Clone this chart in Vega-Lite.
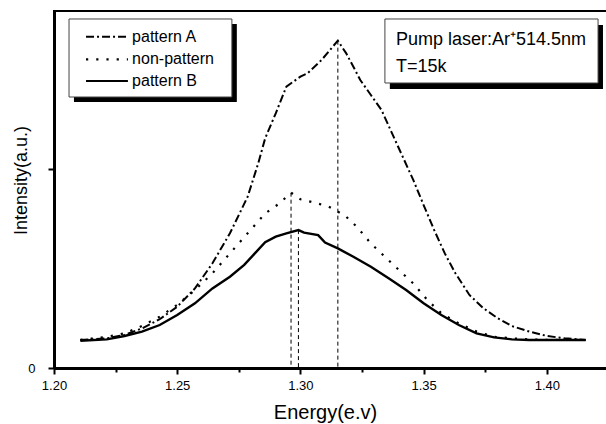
{
  "$schema": "https://vega.github.io/schema/vega-lite/v6.json",
  "autosize": "none",
  "padding": {"left": 54, "top": 11, "right": 0, "bottom": 56},
  "width": 553,
  "height": 357,
  "background": "white",
  "data": {"values": [{}]},
  "config": {
    "font": "Liberation Sans",
    "view": {"stroke": "black", "strokeWidth": 2},
    "axis": {"grid": false, "domainColor": "black", "domainWidth": 3, "tickColor": "black", "tickWidth": 2, "labelColor": "black", "titleColor": "black", "labelFont": "Liberation Sans", "titleFont": "Liberation Sans", "titleFontWeight": "normal"}
  },
  "datasets": {
    "curves": [
      {"series": "pattern A", "E": 1.2107, "I": 0.141},
      {"series": "pattern A", "E": 1.2214, "I": 0.149},
      {"series": "pattern A", "E": 1.2286, "I": 0.166},
      {"series": "pattern A", "E": 1.2357, "I": 0.199},
      {"series": "pattern A", "E": 1.2429, "I": 0.245},
      {"series": "pattern A", "E": 1.2500, "I": 0.308},
      {"series": "pattern A", "E": 1.2572, "I": 0.400},
      {"series": "pattern A", "E": 1.2643, "I": 0.526},
      {"series": "pattern A", "E": 1.2714, "I": 0.677},
      {"series": "pattern A", "E": 1.2786, "I": 0.861},
      {"series": "pattern A", "E": 1.2829, "I": 1.029},
      {"series": "pattern A", "E": 1.2857, "I": 1.154},
      {"series": "pattern A", "E": 1.2900, "I": 1.280},
      {"series": "pattern A", "E": 1.2943, "I": 1.414},
      {"series": "pattern A", "E": 1.3000, "I": 1.464},
      {"series": "pattern A", "E": 1.3029, "I": 1.481},
      {"series": "pattern A", "E": 1.3086, "I": 1.548},
      {"series": "pattern A", "E": 1.3152, "I": 1.645},
      {"series": "pattern A", "E": 1.3186, "I": 1.581},
      {"series": "pattern A", "E": 1.3215, "I": 1.514},
      {"series": "pattern A", "E": 1.3243, "I": 1.447},
      {"series": "pattern A", "E": 1.3286, "I": 1.372},
      {"series": "pattern A", "E": 1.3329, "I": 1.297},
      {"series": "pattern A", "E": 1.3372, "I": 1.179},
      {"series": "pattern A", "E": 1.3415, "I": 1.062},
      {"series": "pattern A", "E": 1.3458, "I": 0.945},
      {"series": "pattern A", "E": 1.3500, "I": 0.819},
      {"series": "pattern A", "E": 1.3543, "I": 0.693},
      {"series": "pattern A", "E": 1.3586, "I": 0.576},
      {"series": "pattern A", "E": 1.3629, "I": 0.476},
      {"series": "pattern A", "E": 1.3686, "I": 0.367},
      {"series": "pattern A", "E": 1.3743, "I": 0.300},
      {"series": "pattern A", "E": 1.3801, "I": 0.250},
      {"series": "pattern A", "E": 1.3858, "I": 0.211},
      {"series": "pattern A", "E": 1.3929, "I": 0.183},
      {"series": "pattern A", "E": 1.4001, "I": 0.161},
      {"series": "pattern A", "E": 1.4072, "I": 0.149},
      {"series": "pattern A", "E": 1.4158, "I": 0.141},
      {"series": "non-pattern", "E": 1.2107, "I": 0.141},
      {"series": "non-pattern", "E": 1.2214, "I": 0.157},
      {"series": "non-pattern", "E": 1.2286, "I": 0.174},
      {"series": "non-pattern", "E": 1.2357, "I": 0.211},
      {"series": "non-pattern", "E": 1.2429, "I": 0.258},
      {"series": "non-pattern", "E": 1.2500, "I": 0.317},
      {"series": "non-pattern", "E": 1.2572, "I": 0.392},
      {"series": "non-pattern", "E": 1.2643, "I": 0.476},
      {"series": "non-pattern", "E": 1.2714, "I": 0.576},
      {"series": "non-pattern", "E": 1.2786, "I": 0.677},
      {"series": "non-pattern", "E": 1.2857, "I": 0.777},
      {"series": "non-pattern", "E": 1.2915, "I": 0.827},
      {"series": "non-pattern", "E": 1.2962, "I": 0.881},
      {"series": "non-pattern", "E": 1.3000, "I": 0.848},
      {"series": "non-pattern", "E": 1.3057, "I": 0.831},
      {"series": "non-pattern", "E": 1.3115, "I": 0.811},
      {"series": "non-pattern", "E": 1.3152, "I": 0.786},
      {"series": "non-pattern", "E": 1.3186, "I": 0.760},
      {"series": "non-pattern", "E": 1.3229, "I": 0.710},
      {"series": "non-pattern", "E": 1.3286, "I": 0.626},
      {"series": "non-pattern", "E": 1.3343, "I": 0.559},
      {"series": "non-pattern", "E": 1.3400, "I": 0.492},
      {"series": "non-pattern", "E": 1.3458, "I": 0.425},
      {"series": "non-pattern", "E": 1.3515, "I": 0.342},
      {"series": "non-pattern", "E": 1.3572, "I": 0.275},
      {"series": "non-pattern", "E": 1.3643, "I": 0.224},
      {"series": "non-pattern", "E": 1.3715, "I": 0.183},
      {"series": "non-pattern", "E": 1.3786, "I": 0.157},
      {"series": "non-pattern", "E": 1.3858, "I": 0.149},
      {"series": "non-pattern", "E": 1.3929, "I": 0.144},
      {"series": "non-pattern", "E": 1.4001, "I": 0.141},
      {"series": "non-pattern", "E": 1.4158, "I": 0.141},
      {"series": "pattern B", "E": 1.2107, "I": 0.137},
      {"series": "pattern B", "E": 1.2214, "I": 0.144},
      {"series": "pattern B", "E": 1.2286, "I": 0.161},
      {"series": "pattern B", "E": 1.2357, "I": 0.183},
      {"series": "pattern B", "E": 1.2429, "I": 0.216},
      {"series": "pattern B", "E": 1.2500, "I": 0.266},
      {"series": "pattern B", "E": 1.2572, "I": 0.325},
      {"series": "pattern B", "E": 1.2643, "I": 0.400},
      {"series": "pattern B", "E": 1.2714, "I": 0.459},
      {"series": "pattern B", "E": 1.2772, "I": 0.518},
      {"series": "pattern B", "E": 1.2815, "I": 0.576},
      {"series": "pattern B", "E": 1.2857, "I": 0.632},
      {"series": "pattern B", "E": 1.2900, "I": 0.660},
      {"series": "pattern B", "E": 1.2943, "I": 0.677},
      {"series": "pattern B", "E": 1.2992, "I": 0.693},
      {"series": "pattern B", "E": 1.3015, "I": 0.680},
      {"series": "pattern B", "E": 1.3072, "I": 0.668},
      {"series": "pattern B", "E": 1.3100, "I": 0.630},
      {"series": "pattern B", "E": 1.3152, "I": 0.601},
      {"series": "pattern B", "E": 1.3215, "I": 0.559},
      {"series": "pattern B", "E": 1.3286, "I": 0.509},
      {"series": "pattern B", "E": 1.3358, "I": 0.451},
      {"series": "pattern B", "E": 1.3429, "I": 0.392},
      {"series": "pattern B", "E": 1.3500, "I": 0.325},
      {"series": "pattern B", "E": 1.3572, "I": 0.266},
      {"series": "pattern B", "E": 1.3643, "I": 0.216},
      {"series": "pattern B", "E": 1.3715, "I": 0.174},
      {"series": "pattern B", "E": 1.3786, "I": 0.154},
      {"series": "pattern B", "E": 1.3858, "I": 0.144},
      {"series": "pattern B", "E": 1.3929, "I": 0.141},
      {"series": "pattern B", "E": 1.4001, "I": 0.141},
      {"series": "pattern B", "E": 1.4158, "I": 0.141}
    ],
    "peaks": [
      {"series": "pattern A", "E": 1.3152, "I": 1.645},
      {"series": "non-pattern", "E": 1.2962, "I": 0.881},
      {"series": "pattern B", "E": 1.2992, "I": 0.693}
    ]
  },
  "layer": [
    {
      "data": {"name": "peaks"},
      "mark": {"type": "rule", "color": "black", "strokeWidth": 1, "strokeDash": [4, 3]},
      "encoding": {
        "x": {"field": "E", "type": "quantitative", "scale": {"domain": [1.2, 1.42443], "nice": false, "zero": false},
          "axis": {"values": [1.2, 1.225, 1.25, 1.275, 1.3, 1.325, 1.35, 1.375, 1.4], "format": ".2f",
            "labelExpr": "abs(datum.value*20 - round(datum.value*20)) < 0.001 ? format(datum.value, '.2f') : ''",
            "tickSize": {"condition": {"test": "abs(datum.value*20 - round(datum.value*20)) < 0.001", "value": 6}, "value": 4},
            "labelFontSize": 13, "labelPadding": 5, "labelFlush": false,
            "title": "Energy(e.v)", "titleFontSize": 20, "titleX": 271, "titleY": 50, "titleBaseline": "alphabetic", "titleAnchor": null}},
        "y": {"field": "I", "type": "quantitative", "scale": {"domain": [0, 1.794], "nice": false, "zero": true},
          "axis": {"values": [0, 1], "labelExpr": "datum.value == 0 ? '0' : ''", "tickSize": 6, "labelFontSize": 13, "labelPadding": 13,
            "title": "Intensity(a.u.)", "titleFontSize": 18, "titleX": -33, "titleY": 169, "titleAngle": -90, "titleAlign": "center", "titleBaseline": "middle"}},
        "y2": {"datum": 0}
      }
    },
    {
      "data": {"name": "curves"},
      "transform": [{"filter": "datum.series == 'pattern A'"}],
      "mark": {"type": "line", "color": "black", "strokeWidth": 2, "strokeDash": [8, 3, 2, 3]},
      "encoding": {"x": {"field": "E", "type": "quantitative"}, "y": {"field": "I", "type": "quantitative"}}
    },
    {
      "data": {"name": "curves"},
      "transform": [{"filter": "datum.series == 'non-pattern'"}],
      "mark": {"type": "line", "color": "black", "strokeWidth": 2.2, "strokeDash": [2.2, 8]},
      "encoding": {"x": {"field": "E", "type": "quantitative"}, "y": {"field": "I", "type": "quantitative"}}
    },
    {
      "data": {"name": "curves"},
      "transform": [{"filter": "datum.series == 'pattern B'"}],
      "mark": {"type": "line", "color": "black", "strokeWidth": 2.4},
      "encoding": {"x": {"field": "E", "type": "quantitative"}, "y": {"field": "I", "type": "quantitative"}}
    },
    {
      "mark": {"type": "rect", "fill": "black"},
      "encoding": {"x": {"datum": 1.2081, "type": "quantitative"}, "x2": {"datum": 1.2742}, "y": {"datum": 1.7286, "type": "quantitative"}, "y2": {"datum": 1.3367}}
    },
    {
      "mark": {"type": "rect", "fill": "white", "stroke": "#444", "strokeWidth": 1},
      "encoding": {"x": {"datum": 1.2061, "type": "quantitative"}, "x2": {"datum": 1.2722}, "y": {"datum": 1.7538, "type": "quantitative"}, "y2": {"datum": 1.3618}}
    },
    {
      "mark": {"type": "rule", "color": "black", "strokeWidth": 2, "strokeDash": [8, 3, 2, 3]},
      "encoding": {"x": {"datum": 1.2130, "type": "quantitative"}, "x2": {"datum": 1.2300}, "y": {"datum": 1.6648, "type": "quantitative"}}
    },
    {
      "mark": {"type": "rule", "color": "black", "strokeWidth": 2.2, "strokeDash": [2.2, 8]},
      "encoding": {"x": {"datum": 1.2130, "type": "quantitative"}, "x2": {"datum": 1.2300}, "y": {"datum": 1.5513, "type": "quantitative"}}
    },
    {
      "mark": {"type": "rule", "color": "black", "strokeWidth": 2.2},
      "encoding": {"x": {"datum": 1.2130, "type": "quantitative"}, "x2": {"datum": 1.2300}, "y": {"datum": 1.4422, "type": "quantitative"}}
    },
    {
      "mark": {"type": "text", "text": "pattern A", "align": "left", "baseline": "middle", "fontSize": 16, "font": "Liberation Sans", "color": "black"},
      "encoding": {"x": {"datum": 1.2317, "type": "quantitative"}, "y": {"datum": 1.6648, "type": "quantitative"}}
    },
    {
      "mark": {"type": "text", "text": "non-pattern", "align": "left", "baseline": "middle", "fontSize": 16, "font": "Liberation Sans", "color": "black"},
      "encoding": {"x": {"datum": 1.2317, "type": "quantitative"}, "y": {"datum": 1.5513, "type": "quantitative"}}
    },
    {
      "mark": {"type": "text", "text": "pattern B", "align": "left", "baseline": "middle", "fontSize": 16, "font": "Liberation Sans", "color": "black"},
      "encoding": {"x": {"datum": 1.2317, "type": "quantitative"}, "y": {"datum": 1.4422, "type": "quantitative"}}
    },
    {
      "mark": {"type": "rect", "fill": "black"},
      "encoding": {"x": {"datum": 1.3363, "type": "quantitative"}, "x2": {"datum": 1.4228}, "y": {"datum": 1.7236, "type": "quantitative"}, "y2": {"datum": 1.4020}}
    },
    {
      "mark": {"type": "rect", "fill": "white", "stroke": "#444", "strokeWidth": 1},
      "encoding": {"x": {"datum": 1.3343, "type": "quantitative"}, "x2": {"datum": 1.4208}, "y": {"datum": 1.7538, "type": "quantitative"}, "y2": {"datum": 1.4322}}
    },
    {
      "mark": {"type": "text", "text": "Pump laser:Ar⁺514.5nm", "align": "left", "baseline": "middle", "fontSize": 18, "font": "Liberation Sans", "color": "black"},
      "encoding": {"x": {"datum": 1.3388, "type": "quantitative"}, "y": {"datum": 1.6482, "type": "quantitative"}}
    },
    {
      "mark": {"type": "text", "text": "T=15k", "align": "left", "baseline": "middle", "fontSize": 18, "font": "Liberation Sans", "color": "black"},
      "encoding": {"x": {"datum": 1.3388, "type": "quantitative"}, "y": {"datum": 1.5126, "type": "quantitative"}}
    }
  ]
}
